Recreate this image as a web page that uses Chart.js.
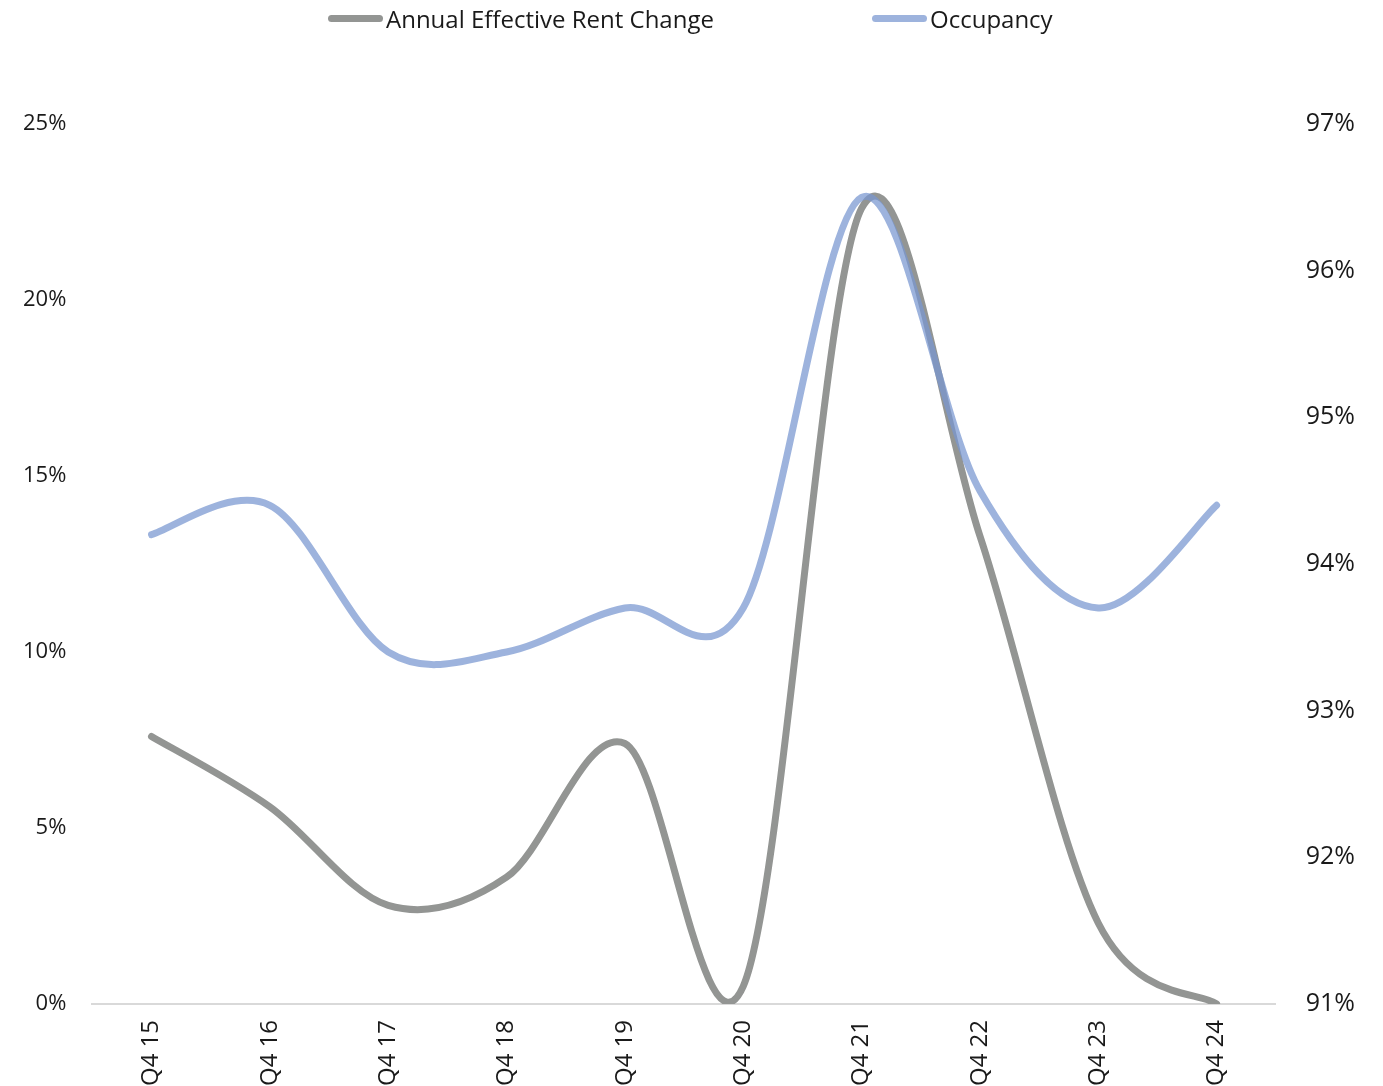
<!DOCTYPE html>
<html>
<head>
<meta charset="utf-8">
<script src="https://cdn.jsdelivr.net/npm/chart.js@4"></script>
<style>
  html, body { margin: 0; padding: 0; background: #fff; }
  #wrap { position: relative; width: 1383px; height: 1086px; }
  #legend { position: absolute; top: 0; left: 0; width: 1383px; height: 40px;
            font-family: "Open Sans", sans-serif; font-size: 24px; color: #1a1a1a; }
  .item { position: absolute; top: 2px; display: flex; align-items: center; height: 32px; }
  .swatch { width: 55px; height: 7px; border-radius: 4px; margin-right: 3px; }
  canvas { position: absolute; top: 0; left: 0; }
</style>
</head>
<body>
<div id="wrap">
  <canvas id="chart" width="1383" height="1086"></canvas>
  <div id="legend"></div>
</div>
<script>
// Quarter labels
const categories = ["Q4 15", "Q4 16", "Q4 17", "Q4 18", "Q4 19", "Q4 20", "Q4 21", "Q4 22", "Q4 23", "Q4 24"];
// Annual effective rent change, percent (left axis)
const rentChange = [7.6, 5.6, 2.8, 3.6, 7.4, 0.5, 22.6, 13.3, 2.3, 0.0];
// Occupancy, percent (right axis)
const occupancy = [94.2, 94.4, 93.4, 93.4, 93.7, 93.7, 96.5, 94.5, 93.7, 94.4];
// Axis tick values
const leftTicks = [0, 5, 10, 15, 20, 25];
const rightTicks = [91, 92, 93, 94, 95, 96, 97];

const seriesNames = ["Annual Effective Rent Change", "Occupancy"];
const gray = "rgb(147,149,147)";
const blue = "rgba(121,151,208,0.73)";

const TEXT = "#1a1a1a";
const FAMILY = "'Open Sans', sans-serif";

// HTML legend
const legendItems = [
  { name: seriesNames[0], color: gray, left: 328 },
  { name: seriesNames[1], color: "rgb(157,179,221)", left: 872 }
];
const legendEl = document.getElementById("legend");
legendItems.forEach(it => {
  const d = document.createElement("div");
  d.className = "item";
  d.style.left = it.left + "px";
  const s = document.createElement("span");
  s.className = "swatch";
  s.style.background = it.color;
  const t = document.createElement("span");
  t.textContent = it.name;
  d.appendChild(s); d.appendChild(t);
  legendEl.appendChild(d);
});

// Smooth the lines with uniform Catmull-Rom control points (each control
// point sits 1/6 of the neighbour-to-neighbour span from its point).
const catmullRom = {
  id: "catmullRom",
  beforeDatasetsDraw(chart) {
    chart.data.datasets.forEach((ds, i) => {
      const pts = chart.getDatasetMeta(i).data;
      const n = pts.length;
      for (let k = 0; k < n; k++) {
        const p = pts[k];
        const prev = pts[Math.max(0, k - 1)];
        const next = pts[Math.min(n - 1, k + 1)];
        const dx = (next.x - prev.x) / 6;
        const dy = (next.y - prev.y) / 6;
        p.cp1x = p.x - dx; p.cp1y = p.y - dy;
        p.cp2x = p.x + dx; p.cp2y = p.y + dy;
      }
    });
  }
};

new Chart(document.getElementById("chart"), {
  type: "line",
  data: {
    labels: categories,
    datasets: [
      {
        label: seriesNames[0],
        data: rentChange,
        yAxisID: "y",
        borderColor: gray,
        borderWidth: 7,
        pointRadius: 0,
        tension: 0.4,
        borderCapStyle: "round",
        borderJoinStyle: "round",
        order: 1
      },
      {
        label: seriesNames[1],
        data: occupancy,
        yAxisID: "y1",
        borderColor: blue,
        borderWidth: 7,
        pointRadius: 0,
        tension: 0.4,
        borderCapStyle: "round",
        borderJoinStyle: "round",
        order: 0
      }
    ]
  },
  plugins: [catmullRom],
  options: {
    responsive: false,
    animation: false,
    layout: { padding: { left: -3, right: -2, top: 124, bottom: -16 } },
    plugins: { legend: { display: false }, tooltip: { enabled: false } },
    scales: {
      x: {
        offset: true,
        grid: { display: false, drawTicks: false },
        border: { display: true, color: "#d9d9d9", width: 2 },
        ticks: { font: { family: FAMILY, size: 24 }, color: TEXT, maxRotation: 90, minRotation: 90, padding: 16 }
      },
      y: {
        position: "left",
        min: leftTicks[0],
        max: leftTicks[leftTicks.length - 1],
        afterBuildTicks: s => { s.ticks = leftTicks.map(v => ({ value: v })); },
        grid: { display: false, drawTicks: false },
        border: { display: false },
        ticks: { font: { family: FAMILY, size: 22 }, color: TEXT, padding: 26, callback: v => v + "%" }
      },
      y1: {
        position: "right",
        min: rightTicks[0],
        max: rightTicks[rightTicks.length - 1],
        afterBuildTicks: s => { s.ticks = rightTicks.map(v => ({ value: v })); },
        grid: { display: false, drawTicks: false },
        border: { display: false },
        ticks: { font: { family: FAMILY, size: 25 }, color: TEXT, padding: 30, callback: v => v + "%" }
      }
    }
  }
});
</script>
</body>
</html>
